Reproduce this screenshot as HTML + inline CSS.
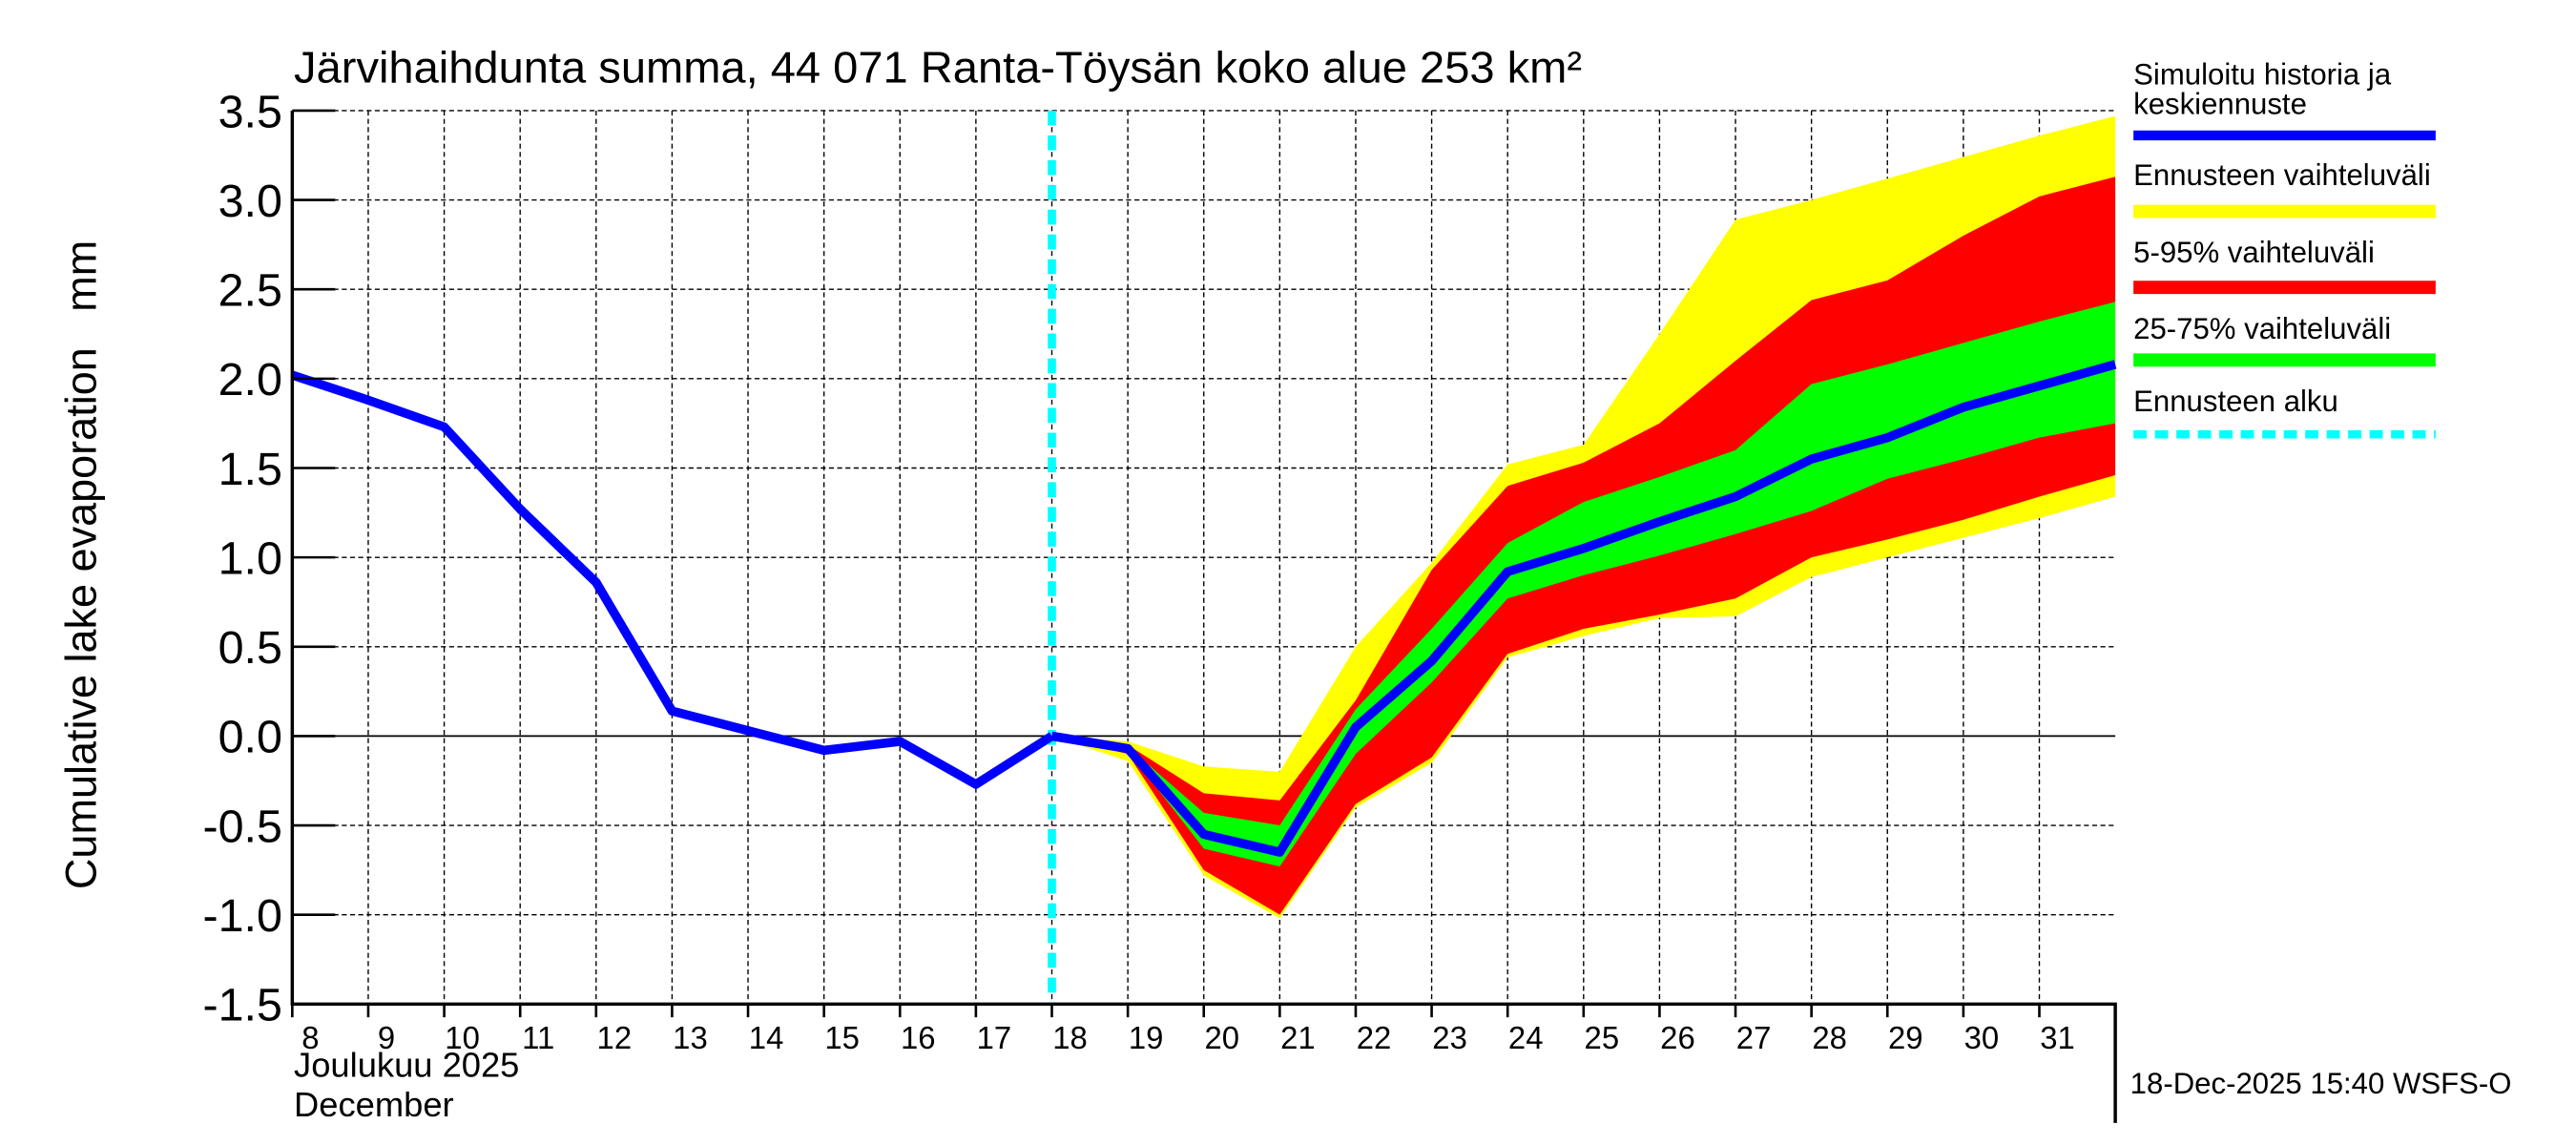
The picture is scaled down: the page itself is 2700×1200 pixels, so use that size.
<!DOCTYPE html>
<html><head><meta charset="utf-8"><style>
html,body{margin:0;padding:0;background:#fff;}
svg{display:block;font-family:"Liberation Sans",sans-serif;}
</style></head><body>
<svg id="chart" width="2700" height="1200" viewBox="0 0 1560 693.33" xmlns="http://www.w3.org/2000/svg">
<g id="grid"></g>
<g id="bands"></g>
<g id="lines"></g>
<g id="axes"></g>
<text x="178" y="50" font-size="27" textLength="780" lengthAdjust="spacingAndGlyphs">Järvihaihdunta summa, 44 071 Ranta-Töysän koko alue 253 km²</text>
<text transform="translate(58,342) rotate(-90)" text-anchor="middle" font-size="26" xml:space="preserve">Cumulative lake evaporation   mm</text>
<text x="178" y="652" font-size="21">Joulukuu  2025</text>
<text x="178" y="676" font-size="21">December</text>
<text x="1290" y="662" font-size="18">18-Dec-2025 15:40 WSFS-O</text>
<g font-size="18">
<text x="1292" y="51">Simuloitu historia ja</text>
<text x="1292" y="69">keskiennuste</text>
<line x1="1292" y1="82" x2="1475" y2="82" stroke="#0000ff" stroke-width="6"/>
<text x="1292" y="112">Ennusteen vaihteluväli</text>
<line x1="1292" y1="128" x2="1475" y2="128" stroke="#ffff00" stroke-width="8"/>
<text x="1292" y="159">5-95% vaihteluväli</text>
<line x1="1292" y1="174" x2="1475" y2="174" stroke="#ff0000" stroke-width="8"/>
<text x="1292" y="205">25-75% vaihteluväli</text>
<line x1="1292" y1="218" x2="1475" y2="218" stroke="#00ff00" stroke-width="8"/>
<text x="1292" y="249">Ennusteen alku</text>
<line x1="1292" y1="263" x2="1475" y2="263" stroke="#00ffff" stroke-width="5" stroke-dasharray="8,5"/>
</g>
</svg>
<script>
const histDays=[8,9,10,11,12,13,14,15,16,17,18];
const histVals=[2.02,1.88,1.73,1.27,0.86,0.14,0.03,-0.08,-0.03,-0.27,0.0];
const fcDays=[18,19,20,21,22,23,24,25,26,27,28,29,30,31,32];
const median=[0.0,-0.07,-0.55,-0.65,0.05,0.42,0.92,1.05,1.2,1.34,1.55,1.67,1.84,1.96,2.08];
const yelMax=[0.0,-0.03,-0.17,-0.2,0.5,0.97,1.52,1.63,2.25,2.89,3.0,3.12,3.24,3.36,3.47];
const yelMin=[0.0,-0.14,-0.78,-1.02,-0.4,-0.15,0.44,0.56,0.66,0.67,0.89,1.0,1.11,1.22,1.34];
const redMax=[0.0,-0.05,-0.32,-0.36,0.2,0.93,1.4,1.53,1.75,2.1,2.44,2.55,2.8,3.02,3.13];
const redMin=[0.0,-0.1,-0.75,-1.0,-0.38,-0.12,0.46,0.6,0.68,0.77,1.0,1.1,1.21,1.34,1.46];
const grnMax=[0.0,-0.06,-0.43,-0.5,0.15,0.6,1.08,1.31,1.45,1.6,1.97,2.08,2.2,2.32,2.43];
const grnMin=[0.0,-0.08,-0.63,-0.73,-0.1,0.3,0.77,0.9,1.01,1.13,1.26,1.44,1.55,1.67,1.75];
const yTicks=[3.5,3.0,2.5,2.0,1.5,1.0,0.5,0.0,-0.5,-1.0,-1.5];
const xTickDays=[8,9,10,11,12,13,14,15,16,17,18,19,20,21,22,23,24,25,26,27,28,29,30,31];
const forecastStart=18;

const NS="http://www.w3.org/2000/svg";
const L=177,R=1281,T=67,B=608,D0=8,D1=32,Y0=-1.5,Y1=3.5;
const xs=d=>L+(d-D0)*(R-L)/(D1-D0);
const ys=v=>B-(v-Y0)*(B-T)/(Y1-Y0);
function mk(tag,attrs,parent){const e=document.createElementNS(NS,tag);for(const k in attrs)e.setAttribute(k,attrs[k]);parent.appendChild(e);return e;}
const grid=document.getElementById('grid'),bands=document.getElementById('bands'),lines=document.getElementById('lines'),axes=document.getElementById('axes');

yTicks.forEach(v=>{
  const g=mk('line',{x1:L,x2:R,y1:ys(v),y2:ys(v),stroke:'#000','stroke-width':v===0?1:0.8,'stroke-dasharray':v===0?'none':'3,2'},grid);
  
  
  const t=mk('line',{x1:L,x2:L+26,y1:ys(v),y2:ys(v),stroke:'#000','stroke-width':1.5},axes);
  
  
  const lb=mk('text',{x:L-6,y:ys(v)+10,'text-anchor':'end','font-size':28},axes);
  lb.textContent=v.toFixed(1);
  
  
});
xTickDays.forEach(d=>{
  if(d>D0){const g=mk('line',{x1:xs(d),x2:xs(d),y1:T,y2:B,stroke:'#000','stroke-width':0.8,'stroke-dasharray':'3,2'},grid);
  
  }
  const t=mk('line',{x1:xs(d),x2:xs(d),y1:B,y2:B+8,stroke:'#000','stroke-width':1.5},axes);
  
  
  const lb=mk('text',{x:xs(d)+11,y:B+27,'text-anchor':'middle','font-size':19},axes);
  lb.textContent=d;
  
  
});
function band(hi,lo,color,name){
  let pts=fcDays.map((d,i)=>xs(d)+','+ys(hi[i]));
  for(let i=fcDays.length-1;i>=0;i--)pts.push(xs(fcDays[i])+','+ys(lo[i]));
  const p=mk('polygon',{points:pts.join(' '),fill:color},bands);
  
  
}
band(yelMax,yelMin,'#ffff00','band-range');
band(redMax,redMin,'#ff0000','band-5-95');
band(grnMax,grnMin,'#00ff00','band-25-75');
const fs=mk('line',{x1:xs(forecastStart),x2:xs(forecastStart),y1:T,y2:B,stroke:'#00ffff','stroke-width':5,'stroke-dasharray':'9,6'},lines);


const hp=mk('polyline',{points:histDays.map((d,i)=>xs(d)+','+ys(histVals[i])).join(' '),fill:'none',stroke:'#0000ff','stroke-width':5.5,'stroke-linejoin':'round'},lines);


const mp=mk('polyline',{points:fcDays.map((d,i)=>xs(d)+','+ys(median[i])).join(' '),fill:'none',stroke:'#0000ff','stroke-width':5.5,'stroke-linejoin':'round'},lines);


const ax=mk('path',{d:`M${L},${T} V${B} H${R} V${B+72}`,fill:'none',stroke:'#000','stroke-width':2},axes);


</script>
</body></html>
